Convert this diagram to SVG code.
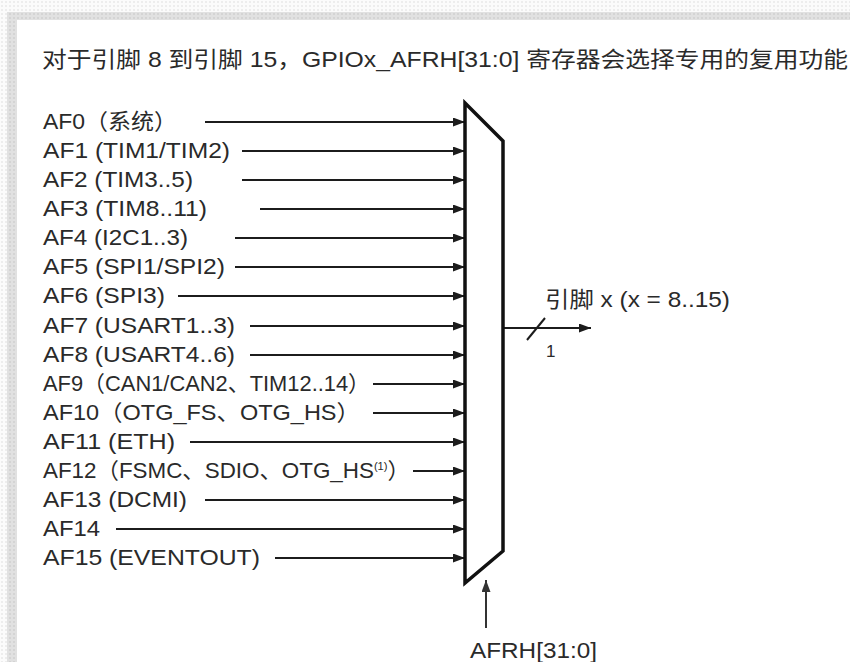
<svg xmlns="http://www.w3.org/2000/svg" width="850" height="662" viewBox="0 0 850 662">
  <style>
    .t { font-family: "Liberation Sans", "Noto Sans CJK SC", sans-serif; font-size: 22px; fill: #2a2a2a; }
    .wire { stroke: #1c1c1c; stroke-width: 2; fill: none; }
    .mux { fill: #fff; stroke: #111; stroke-width: 3.5; stroke-linejoin: miter; }
  </style>
  <defs>
    <pattern id="dots" width="4" height="4" patternUnits="userSpaceOnUse">
      <rect width="4" height="4" fill="#fbfbfb"/>
      <rect x="1.5" y="1.5" width="1" height="1" fill="#c4c4c4"/>
    </pattern>
    <marker id="ah" markerUnits="userSpaceOnUse" markerWidth="13" markerHeight="10" refX="12" refY="4.5" orient="auto">
      <path d="M0,0 L12,4.5 L0,9 z" fill="#1c1c1c"/>
    </marker>
    <marker id="ahg" markerUnits="userSpaceOnUse" markerWidth="13" markerHeight="10" refX="12" refY="4.5" orient="auto">
      <path d="M0,0 L12,4.5 L0,9 z" fill="#333"/>
    </marker>
  </defs>

  <!-- page background -->
  <rect width="850" height="662" fill="url(#dots)"/>
  <rect x="7" y="12" width="843" height="650" fill="#000" fill-opacity="0.1"/>
  <rect x="17" y="20" width="833" height="642" fill="#fff"/>

  <text class="t" x="42" y="67" textLength="806" lengthAdjust="spacingAndGlyphs">对于引脚 8 到引脚 15，GPIOx_AFRH[31:0] 寄存器会选择专用的复用功能</text>

  <g id="connectors">
    <line class="wire" x1="205" y1="122" x2="465" y2="122" marker-end="url(#ah)"/>
    <line class="wire" x1="242" y1="151" x2="465" y2="151" marker-end="url(#ah)"/>
    <line class="wire" x1="242" y1="180" x2="465" y2="180" marker-end="url(#ah)"/>
    <line class="wire" x1="260" y1="209" x2="465" y2="209" marker-end="url(#ah)"/>
    <line class="wire" x1="235" y1="238" x2="465" y2="238" marker-end="url(#ah)"/>
    <line class="wire" x1="235" y1="267" x2="465" y2="267" marker-end="url(#ah)"/>
    <line class="wire" x1="178" y1="296" x2="465" y2="296" marker-end="url(#ah)"/>
    <line class="wire" x1="250" y1="326" x2="465" y2="326" marker-end="url(#ah)"/>
    <line class="wire" x1="250" y1="355" x2="465" y2="355" marker-end="url(#ah)"/>
    <line class="wire" x1="373" y1="384" x2="465" y2="384" marker-end="url(#ah)"/>
    <line class="wire" x1="373" y1="413" x2="465" y2="413" marker-end="url(#ah)"/>
    <line class="wire" x1="190" y1="442" x2="465" y2="442" marker-end="url(#ah)"/>
    <line class="wire" x1="413" y1="471" x2="465" y2="471" marker-end="url(#ah)"/>
    <line class="wire" x1="205" y1="500" x2="465" y2="500" marker-end="url(#ah)"/>
    <line class="wire" x1="116" y1="529" x2="465" y2="529" marker-end="url(#ah)"/>
    <line class="wire" x1="275" y1="558" x2="465" y2="558" marker-end="url(#ah)"/>
    <!-- output -->
    <line class="wire" x1="503" y1="328" x2="591" y2="328" marker-end="url(#ah)"/>
    <line class="wire" x1="527" y1="340" x2="545" y2="318"/>
    <!-- select -->
    <line x1="486" y1="628" x2="486" y2="580" stroke="#333" stroke-width="2" marker-end="url(#ahg)"/>
  </g>

  <g id="mux">
    <polygon class="mux" points="465,103 503,141 503,551 465,583"/>
  </g>

  <g id="inputs">
    <g id="af0"><text class="t" x="43" y="128.5" textLength="134" lengthAdjust="spacingAndGlyphs">AF0（系统）</text></g>
    <g id="af1"><text class="t" x="43" y="157.5" textLength="187" lengthAdjust="spacingAndGlyphs">AF1 (TIM1/TIM2)</text></g>
    <g id="af2"><text class="t" x="43" y="186.5" textLength="150" lengthAdjust="spacingAndGlyphs">AF2 (TIM3..5)</text></g>
    <g id="af3"><text class="t" x="43" y="215.5" textLength="164" lengthAdjust="spacingAndGlyphs">AF3 (TIM8..11)</text></g>
    <g id="af4"><text class="t" x="43" y="244.5" textLength="145" lengthAdjust="spacingAndGlyphs">AF4 (I2C1..3)</text></g>
    <g id="af5"><text class="t" x="43" y="273.5" textLength="182" lengthAdjust="spacingAndGlyphs">AF5 (SPI1/SPI2)</text></g>
    <g id="af6"><text class="t" x="43" y="302.5" textLength="122" lengthAdjust="spacingAndGlyphs">AF6 (SPI3)</text></g>
    <g id="af7"><text class="t" x="43" y="332.5" textLength="192" lengthAdjust="spacingAndGlyphs">AF7 (USART1..3)</text></g>
    <g id="af8"><text class="t" x="43" y="361.5" textLength="192" lengthAdjust="spacingAndGlyphs">AF8 (USART4..6)</text></g>
    <g id="af9"><text class="t" x="43" y="390.5" textLength="327" lengthAdjust="spacingAndGlyphs">AF9（CAN1/CAN2、TIM12..14）</text></g>
    <g id="af10"><text class="t" x="43" y="419.5" textLength="317" lengthAdjust="spacingAndGlyphs">AF10（OTG_FS、OTG_HS）</text></g>
    <g id="af11"><text class="t" x="43" y="448.5" textLength="132" lengthAdjust="spacingAndGlyphs">AF11 (ETH)</text></g>
    <g id="af12"><text class="t" x="43" y="477.5" textLength="367" lengthAdjust="spacingAndGlyphs">AF12（FSMC、SDIO、OTG_HS<tspan font-size="11" dy="-8">(1)</tspan><tspan dy="8">）</tspan></text></g>
    <g id="af13"><text class="t" x="43" y="506.5" textLength="144" lengthAdjust="spacingAndGlyphs">AF13 (DCMI)</text></g>
    <g id="af14"><text class="t" x="43" y="535.5" textLength="57" lengthAdjust="spacingAndGlyphs">AF14</text></g>
    <g id="af15"><text class="t" x="43" y="564.5" textLength="217" lengthAdjust="spacingAndGlyphs">AF15 (EVENTOUT)</text></g>
  </g>

  <g id="output">
    <text class="t" x="545" y="307" textLength="185" lengthAdjust="spacingAndGlyphs">引脚 x (x = 8..15)</text>
    <text class="t" x="546" y="357" style="font-size:17px">1</text>
  </g>

  <g id="select">
    <text class="t" x="470" y="658" textLength="127" lengthAdjust="spacingAndGlyphs">AFRH[31:0]</text>
  </g>
</svg>
